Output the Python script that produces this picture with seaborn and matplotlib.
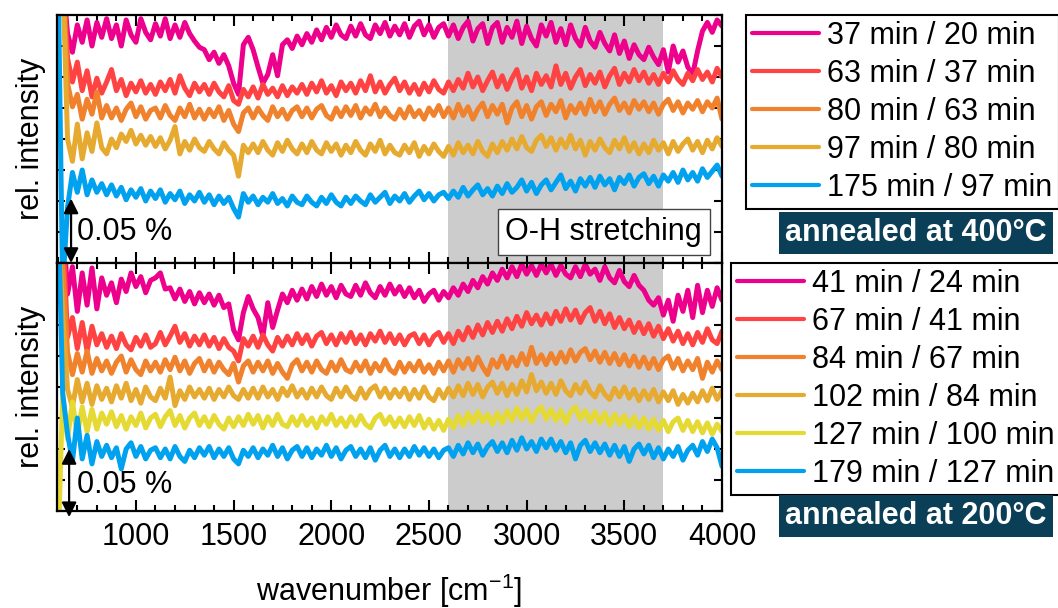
import numpy as np
import pandas as pd
import matplotlib
matplotlib.use("Agg")
import matplotlib.pyplot as plt
import seaborn as sns
from matplotlib.ticker import MultipleLocator

sns.set_style("ticks")
plt.rcParams["font.family"] = ["Liberation Sans", "DejaVu Sans"]
plt.rcParams["mathtext.fontset"] = "custom"
plt.rcParams["mathtext.rm"] = "Liberation Sans"
plt.rcParams["mathtext.it"] = "Liberation Sans:italic"
plt.rcParams["mathtext.bf"] = "Liberation Sans:bold"
plt.rcParams["xtick.color"] = "black"
plt.rcParams["ytick.color"] = "black"
plt.rcParams["axes.edgecolor"] = "black"
plt.rcParams["text.color"] = "black"
plt.rcParams["axes.labelcolor"] = "black"

# ---------------- data (relative intensity in 10^-3 %, offset per trace) ----------------
wavenumber = np.arange(600, 4001, 25)

labels_400 = ["37 min / 20 min", "63 min / 37 min", "80 min / 63 min",
              "97 min / 80 min", "175 min / 97 min"]
colors_400 = ["#EC008C", "#FF4242", "#F0822D", "#E6AA30", "#00A2F0"]

t400_37_20 = [250, 230, 185, 170, 192, 178, 196, 175, 194, 182,
              197, 181, 192, 175, 196, 184, 178, 197, 186, 180,
              193, 183, 197, 181, 192, 182, 194, 185, 179, 174,
              172, 164, 170, 161, 168, 159, 145, 136, 176, 182,
              172, 158, 145, 152, 168, 151, 176, 180, 173, 183,
              176, 185, 178, 188, 180, 190, 182, 192, 184, 181,
              191, 183, 193, 184, 181, 192, 185, 194, 183, 191,
              184, 193, 182, 191, 195, 184, 192, 182, 190, 193,
              183, 192, 181, 190, 195, 179, 189, 193, 177, 190,
              194, 178, 190, 182, 195, 177, 191, 181, 175, 192,
              183, 194, 178, 189, 176, 192, 181, 175, 190, 179,
              174, 186, 177, 171, 184, 169, 179, 165, 176, 168,
              164, 174, 166, 160, 172, 154, 175, 162, 171, 158,
              152, 171, 187, 194, 186, 196, 191]
t400_63_37 = [250, 240, 165, 146, 162, 139, 155, 134, 149, 137,
              146, 156, 139, 148, 135, 145, 138, 147, 137, 144,
              136, 146, 139, 148, 137, 151, 141, 135, 145, 138,
              144, 136, 145, 138, 134, 143, 131, 128, 140, 134,
              142, 133, 144, 136, 141, 134, 143, 135, 142, 137,
              144, 136, 145, 138, 147, 137, 143, 135, 146, 139,
              145, 137, 147, 139, 151, 138, 146, 137, 144, 149,
              139, 146, 137, 144, 136, 145, 138, 147, 140, 137,
              146, 139, 148, 141, 153, 142, 150, 139, 147, 154,
              142, 151, 140, 149, 156, 141, 150, 139, 153, 144,
              151, 142, 159, 144, 153, 141, 150, 156, 143, 152,
              145, 154, 142, 151, 157, 144, 153, 146, 156, 147,
              154, 145, 152, 144, 153, 146, 155, 148, 144, 153,
              147, 156, 148, 154, 146, 157, 150]
t400_80_63 = [240, 230, 145, 126, 136, 116, 132, 120, 138, 117,
              127, 117, 125, 115, 124, 129, 118, 126, 116, 123,
              125, 117, 127, 119, 115, 125, 118, 128, 117, 124,
              116, 124, 118, 126, 115, 123, 112, 106, 121, 125,
              117, 125, 119, 115, 126, 118, 124, 116, 123, 126,
              118, 125, 117, 124, 127, 119, 116, 125, 118, 126,
              119, 127, 117, 125, 120, 128, 118, 125, 119, 116,
              124, 117, 126, 118, 123, 116, 125, 119, 127, 118,
              125, 117, 128, 119, 126, 116, 124, 129, 118, 127,
              120, 128, 113, 125, 130, 118, 127, 116, 126, 130,
              119, 128, 122, 131, 117, 127, 121, 129, 120, 132,
              122, 130, 120, 128, 133, 123, 129, 121, 131, 124,
              130, 122, 129, 120, 128, 132, 123, 130, 121, 129,
              124, 131, 122, 130, 125, 133, 116]
t400_97_80 = [250, 235, 100, 82, 112, 84, 105, 90, 113, 93,
              88, 100, 93, 104, 98, 107, 96, 103, 95, 102,
              94, 101, 92, 99, 110, 88, 98, 91, 100, 93,
              90, 98, 92, 88, 97, 91, 87, 70, 95, 89,
              96, 89, 98, 91, 87, 97, 90, 99, 92, 88,
              96, 89, 98, 91, 88, 97, 90, 96, 87, 95,
              89, 98, 91, 87, 96, 90, 99, 88, 95, 89,
              87, 95, 89, 97, 86, 94, 88, 96, 90, 86,
              94, 87, 97, 89, 95, 88, 98, 90, 86, 96,
              89, 98, 91, 100, 92, 102, 93, 90, 99, 103,
              94, 101, 91, 100, 93, 103, 92, 99, 87, 98,
              91, 100, 93, 89, 99, 92, 101, 90, 97, 88,
              96, 89, 99, 91, 97, 88, 98, 90, 96, 100,
              91, 98, 89, 99, 92, 101, 94]
t400_175_97 = [250, -20, 45, 73, 57, 75, 55, 67, 57, 64,
               55, 63, 54, 61, 51, 59, 53, 60, 50, 58,
               52, 59, 49, 56, 51, 58, 48, 55, 50, 57,
               49, 55, 47, 54, 48, 53, 44, 37, 56, 49,
               54, 47, 53, 49, 56, 48, 52, 46, 54, 49,
               47, 54, 49, 46, 53, 48, 55, 49, 46, 53,
               48, 54, 50, 47, 55, 49, 53, 57, 48, 54,
               50, 56, 49, 54, 58, 51, 56, 50, 55, 57,
               52, 58, 53, 61, 54, 59, 63, 55, 60, 54,
               62, 56, 64, 57, 61, 67, 58, 65, 56, 63,
               67, 59, 65, 71, 60, 66, 58, 68, 62, 69,
               61, 70, 63, 68, 59, 69, 64, 71, 62, 69,
               72, 64, 70, 62, 71, 66, 73, 65, 75, 67,
               73, 66, 76, 69, 74, 79, 70]

labels_200 = ["41 min / 24 min", "67 min / 41 min", "84 min / 67 min",
              "102 min / 84 min", "127 min / 100 min", "179 min / 127 min"]
colors_200 = ["#EC008C", "#FF4242", "#F0822D", "#E6AA30", "#E5DA33", "#00A2F0"]

t200_41_24 = [260, 240, 175, 197, 161, 192, 166, 196, 163, 188,
              174, 184, 168, 187, 177, 192, 181, 189, 176, 186,
              188, 192, 179, 180, 171, 179, 169, 177, 167, 176,
              168, 175, 166, 174, 164, 167, 146, 138, 160, 173,
              163, 156, 141, 168, 148, 162, 175, 168, 178, 170,
              179, 171, 181, 173, 183, 174, 181, 172, 182, 175,
              173, 182, 174, 184, 176, 172, 181, 174, 183, 175,
              181, 173, 180, 172, 178, 169, 175, 178, 170, 177,
              172, 180, 174, 183, 177, 186, 180, 189, 183, 192,
              186, 195, 188, 197, 189, 199, 191, 198, 190, 199,
              192, 199, 190, 198, 191, 188, 197, 189, 199, 191,
              195, 186, 197, 188, 184, 194, 185, 181, 190, 182,
              178, 170, 166, 172, 158, 170, 153, 174, 161, 178,
              156, 182, 160, 178, 165, 180, 170]
t200_67_41 = [260, 230, 140, 156, 131, 152, 129, 149, 134, 143,
              132, 141, 131, 143, 134, 130, 140, 133, 142, 132,
              135, 144, 134, 141, 149, 136, 143, 133, 141, 134,
              142, 133, 140, 131, 139, 132, 129, 121, 139, 133,
              141, 132, 142, 134, 129, 140, 133, 141, 134, 143,
              135, 142, 133, 141, 144, 135, 142, 134, 143, 136,
              144, 135, 142, 134, 143, 137, 145, 136, 143, 135,
              142, 134, 141, 143, 135, 142, 134, 141, 144, 136,
              143, 135, 145, 138, 148, 140, 150, 142, 152, 144,
              153, 145, 155, 147, 157, 149, 160, 151, 158, 150,
              159, 151, 161, 153, 163, 154, 162, 152, 160, 164,
              153, 161, 151, 159, 148, 156, 147, 154, 144, 152,
              143, 151, 141, 149, 139, 147, 137, 145, 135, 143,
              134, 144, 136, 147, 138, 135, 145]
t200_84_67 = [250, 200, 128, 110, 127, 112, 129, 111, 123, 113,
              121, 111, 120, 125, 112, 122, 114, 110, 121, 113,
              120, 112, 122, 114, 124, 113, 121, 111, 119, 123,
              113, 121, 112, 120, 114, 110, 119, 104, 117, 121,
              112, 120, 113, 121, 111, 119, 112, 107, 118, 122,
              113, 120, 112, 121, 114, 111, 120, 113, 122, 114,
              112, 120, 113, 121, 111, 119, 113, 122, 114, 111,
              120, 112, 119, 113, 121, 112, 118, 111, 120, 113,
              121, 112, 122, 115, 123, 114, 124, 116, 110, 122,
              116, 125, 115, 124, 117, 127, 118, 132, 119, 126,
              118, 127, 119, 128, 120, 130, 121, 128, 131, 122,
              129, 120, 128, 119, 127, 118, 126, 117, 125, 116,
              124, 115, 123, 114, 122, 125, 115, 123, 113, 121,
              114, 123, 107, 120, 112, 121, 114]
t200_102_84 = [240, 160, 98, 84, 106, 88, 103, 86, 101, 90,
               99, 88, 101, 91, 103, 89, 98, 87, 100, 92,
               89, 99, 91, 108, 85, 97, 90, 100, 92, 98,
               91, 99, 90, 98, 92, 100, 93, 90, 98, 91,
               99, 91, 100, 92, 98, 90, 99, 93, 101, 92,
               98, 91, 99, 92, 100, 93, 90, 99, 92, 100,
               93, 90, 99, 91, 98, 101, 92, 99, 91, 98,
               92, 99, 90, 98, 91, 100, 92, 89, 98, 91,
               99, 92, 101, 93, 103, 94, 102, 92, 100, 104,
               95, 103, 93, 102, 94, 105, 96, 110, 97, 104,
               95, 103, 94, 105, 97, 93, 102, 95, 104, 96,
               92, 101, 94, 90, 99, 92, 100, 91, 98, 89,
               97, 90, 98, 88, 96, 89, 97, 86, 94, 87,
               95, 88, 97, 89, 99, 90, 97]
t200_127_100 = [-40, 95, 58, 88, 61, 84, 64, 82, 66, 79,
                70, 80, 68, 77, 66, 76, 69, 79, 67, 75,
                78, 68, 76, 81, 69, 77, 67, 75, 79, 69,
                76, 68, 77, 70, 66, 75, 68, 76, 69, 78,
                70, 77, 67, 76, 69, 78, 70, 68, 76, 69,
                77, 69, 75, 67, 76, 70, 78, 69, 75, 68,
                76, 69, 77, 70, 67, 75, 78, 70, 76, 68,
                75, 68, 76, 69, 77, 67, 74, 66, 73, 65,
                74, 67, 77, 69, 79, 71, 80, 72, 78, 70,
                79, 71, 81, 73, 83, 74, 82, 72, 80, 84,
                74, 82, 73, 81, 71, 80, 84, 74, 81, 72,
                80, 71, 79, 69, 78, 70, 77, 68, 76, 67,
                75, 66, 74, 65, 73, 64, 72, 75, 65, 73,
                64, 72, 63, 71, 62, 70, 64]
t200_179_127 = [260, 95, 62, 40, 75, 42, 61, 38, 56, 44,
                53, 43, 51, 34, 50, 55, 44, 52, 42, 49,
                51, 43, 50, 42, 52, 44, 40, 49, 43, 51,
                45, 52, 43, 50, 44, 51, 42, 38, 49, 44,
                51, 43, 50, 45, 53, 44, 51, 42, 49, 52,
                44, 51, 43, 50, 45, 53, 44, 51, 42, 49,
                52, 44, 50, 43, 51, 41, 49, 53, 44, 50,
                43, 50, 44, 52, 45, 51, 44, 50, 43, 49,
                51, 44, 53, 46, 55, 47, 54, 45, 52, 56,
                48, 55, 47, 57, 49, 59, 50, 56, 48, 58,
                51, 58, 49, 56, 47, 55, 42, 53, 57, 48,
                55, 47, 54, 45, 53, 44, 52, 40, 50, 54,
                46, 53, 43, 51, 42, 50, 44, 52, 41, 49,
                53, 45, 56, 48, 58, 51, 36]

series_400 = [t400_37_20, t400_63_37, t400_80_63, t400_97_80, t400_175_97]
series_200 = [t200_41_24, t200_67_41, t200_84_67, t200_102_84, t200_127_100, t200_179_127]

def long_frame(series, labels):
    frames = []
    for s, lab in zip(series, labels):
        frames.append(pd.DataFrame({"wavenumber": wavenumber, "intensity": s, "label": lab}))
    return pd.concat(frames, ignore_index=True)

df400 = long_frame(series_400, labels_400)
df200 = long_frame(series_200, labels_200)

# ---------------- figure ----------------
W, H = 1058, 608
fig = plt.figure(figsize=(W / 100, H / 100), dpi=100)
left, right = 57, 722
ax1 = fig.add_axes([left / W, 1 - 263 / H, (right - left) / W, 248 / H])
ax2 = fig.add_axes([left / W, 1 - 511 / H, (right - left) / W, 248 / H])

FS = 22
for ax, df, labels, colors in [(ax1, df400, labels_400, colors_400),
                               (ax2, df200, labels_200, colors_200)]:
    ax.axvspan(2600, 3700, color="#cccccc", lw=0, zorder=0)
    sns.lineplot(data=df, x="wavenumber", y="intensity", hue="label",
                 hue_order=labels, palette=colors, estimator=None, sort=False,
                 lw=3.6, legend=False, ax=ax)
    ax.set_xlim(596, 4000)
    ax.set_ylim(0, 200)
    ax.xaxis.set_major_locator(MultipleLocator(500))
    ax.xaxis.set_minor_locator(MultipleLocator(100))
    ax.yaxis.set_major_locator(MultipleLocator(25))
    ax.tick_params(axis="both", which="both", direction="in", top=True, right=True,
                   width=1.5, labelleft=False, labelsize=FS)
    ax.tick_params(axis="x", which="major", length=8)
    ax.tick_params(axis="x", which="minor", length=4.5)
    ax.tick_params(axis="y", which="major", length=6)
    for sp in ax.spines.values():
        sp.set_linewidth(1.6)
        sp.set_color("black")
    ax.set_ylabel("rel. intensity", fontsize=FS, labelpad=8)
    ax.set_xlabel("")

ax1.tick_params(axis="x", labelbottom=False)
ax2.tick_params(axis="x", pad=8)
ax2.set_xlabel("wavenumber [cm$^{-1}$]", fontsize=FS, labelpad=14)

# scale bars
arrow_kw = dict(arrowstyle="<|-|>", color="black", lw=1.6, mutation_scale=22,
                shrinkA=0, shrinkB=0)
ax1.annotate("", xy=(668, 0), xytext=(668, 52), arrowprops=arrow_kw, annotation_clip=False)
ax1.text(700, 25, "0.05 %", fontsize=FS, ha="left", va="center")
ax2.annotate("", xy=(658, -5), xytext=(658, 50), arrowprops=arrow_kw, annotation_clip=False)
ax2.text(700, 21, "0.05 %", fontsize=FS, ha="left", va="center")

ax1.text(3395, 25, "O-H stretching", fontsize=FS, ha="center", va="center",
         bbox=dict(boxstyle="square,pad=0.25", fc="white", ec="#444444", lw=1))

# legends
def add_legend(ax, labels, x_px, y_px):
    leg = ax.legend(handles=ax.lines[:len(labels)], labels=labels, loc="upper left",
                    bbox_to_anchor=(x_px / W, 1 - y_px / H), bbox_transform=fig.transFigure,
                    frameon=True, fancybox=False, edgecolor="black", framealpha=1,
                    borderpad=0.2, labelspacing=0.26, handlelength=2.2, handletextpad=0.26,
                    borderaxespad=0, fontsize=FS)
    leg.get_frame().set_linewidth(1.5)
    for h in leg.get_lines():
        h.set_linewidth(3.0)
    return leg

add_legend(ax1, labels_400, 746, 15)
add_legend(ax2, labels_200, 731, 263)

badge = dict(boxstyle="square,pad=0.2", fc="#0B3F57", ec="none")
fig.text(916 / W, 1 - 233 / H, "annealed at 400°C", ha="center", va="center",
         color="white", fontweight="bold", fontsize=FS, bbox=badge)
fig.text(916 / W, 1 - 516 / H, "annealed at 200°C", ha="center", va="center",
         color="white", fontweight="bold", fontsize=FS, bbox=badge)

fig.savefig("out.png", dpi=100)
